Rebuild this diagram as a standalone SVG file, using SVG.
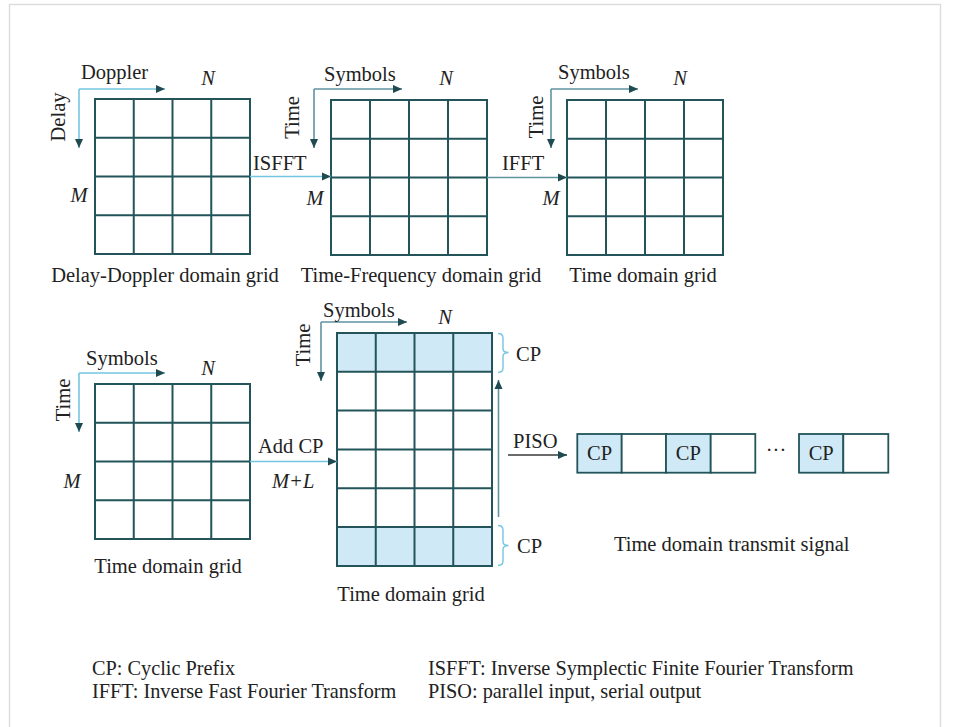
<svg xmlns="http://www.w3.org/2000/svg" width="953" height="727" viewBox="0 0 953 727">
<style>
  text { font-family: 'Liberation Serif', 'DejaVu Serif', serif; font-size: 20.5px; fill: #222; }
  .lg { font-size: 20.3px; }
  .it { font-style: italic; }
  .mid { text-anchor: middle; }
  .grid { fill: none; stroke: #22545a; stroke-width: 2; }
  .gl { stroke: #22545a; stroke-width: 2; }
  .cp { fill: #cfeaf6; stroke: none; }
  .lb { stroke: #74c6e0; stroke-width: 1.6; fill: none; }
  .gt { stroke: #5f93a0; stroke-width: 1.6; fill: none; }
  .dk { stroke: #3a3a3a; stroke-width: 1.4; fill: none; }
  .br { stroke: #74c6e0; stroke-width: 1.4; fill: none; }
</style>
<defs>
  <marker id="ah" markerUnits="userSpaceOnUse" markerWidth="10" markerHeight="9" refX="9" refY="4.5" orient="auto">
    <path d="M0,0.5 L9,4.5 L0,8.5 z" fill="#1f4a50"/>
  </marker>
</defs>
<rect x="9.5" y="4.5" width="931" height="760" fill="none" stroke="#dddddd" stroke-width="1.5"/>

<g id="dd-grid">
  <rect class="grid" x="95" y="99" width="155" height="155"/>
  <path class="gl" d="M133.75,99 V254 M172.5,99 V254 M211.25,99 V254 M95,137.75 H250 M95,176.5 H250 M95,215.25 H250"/>
  <line class="lb" x1="79" y1="89" x2="165" y2="89" marker-end="url(#ah)"/>
  <line class="lb" x1="79" y1="89" x2="79" y2="148" marker-end="url(#ah)"/>
  <text x="81" y="79">Doppler</text>
  <text transform="translate(65,117) rotate(-90)" class="mid">Delay</text>
  <text x="208" y="85" class="it mid">N</text>
  <text x="79" y="201.5" class="it mid">M</text>
  <text x="165" y="282" class="mid">Delay-Doppler domain grid</text>
</g>

<g id="tf-grid">
  <rect class="grid" x="331" y="100" width="156" height="155"/>
  <path class="gl" d="M370,100 V255 M409,100 V255 M448,100 V255 M331,138.75 H487 M331,177.5 H487 M331,216.25 H487"/>
  <line class="gt" x1="314" y1="89" x2="402" y2="89" marker-end="url(#ah)"/>
  <line class="gt" x1="314" y1="89" x2="314" y2="148" marker-end="url(#ah)"/>
  <text x="324" y="81">Symbols</text>
  <text transform="translate(299,117.5) rotate(-90)" class="mid">Time</text>
  <text x="446" y="85" class="it mid">N</text>
  <text x="315" y="205" class="it mid">M</text>
  <text x="421" y="282" class="mid">Time-Frequency domain grid</text>
</g>

<g id="td-grid-1">
  <rect class="grid" x="567" y="100" width="156" height="155"/>
  <path class="gl" d="M606,100 V255 M645,100 V255 M684,100 V255 M567,138.75 H723 M567,177.5 H723 M567,216.25 H723"/>
  <line class="gt" x1="551" y1="89" x2="638" y2="89" marker-end="url(#ah)"/>
  <line class="gt" x1="551" y1="89" x2="551" y2="148" marker-end="url(#ah)"/>
  <text x="558" y="79">Symbols</text>
  <text transform="translate(543,117) rotate(-90)" class="mid">Time</text>
  <text x="680" y="85" class="it mid">N</text>
  <text x="551" y="205" class="it mid">M</text>
  <text x="643" y="282" class="mid">Time domain grid</text>
</g>

<g id="td-grid-2">
  <rect class="grid" x="95" y="384" width="155" height="155"/>
  <path class="gl" d="M133.75,384 V539 M172.5,384 V539 M211.25,384 V539 M95,422.75 H250 M95,461.5 H250 M95,500.25 H250"/>
  <line class="lb" x1="79" y1="373" x2="165" y2="373" marker-end="url(#ah)"/>
  <line class="lb" x1="79" y1="373" x2="79" y2="432" marker-end="url(#ah)"/>
  <text x="86" y="365">Symbols</text>
  <text transform="translate(70,400) rotate(-90)" class="mid">Time</text>
  <text x="208" y="375" class="it mid">N</text>
  <text x="72" y="488" class="it mid">M</text>
  <text x="168" y="573" class="mid">Time domain grid</text>
</g>

<g id="td-grid-cp">
  <rect class="cp" x="337" y="333" width="155" height="38.8"/>
  <rect class="cp" x="337" y="527" width="155" height="39"/>
  <rect class="grid" x="337" y="333" width="155" height="233"/>
  <path class="gl" d="M375.75,333 V566 M414.5,333 V566 M453.25,333 V566 M337,371.8 H492 M337,410.6 H492 M337,449.4 H492 M337,488.2 H492 M337,527 H492"/>
  <line class="gt" x1="321" y1="322" x2="407" y2="322" marker-end="url(#ah)"/>
  <line class="gt" x1="321" y1="322" x2="321" y2="381" marker-end="url(#ah)"/>
  <text x="323" y="317">Symbols</text>
  <text transform="translate(310,345) rotate(-90)" class="mid">Time</text>
  <text x="445" y="324" class="it mid">N</text>
  <path class="br" d="M498,333.5 Q503,333.5 503,338 V348.5 Q503,352.5 508.5,352.5 Q503,352.5 503,356.5 V368 Q503,372.5 498,372.5"/>
  <text x="516" y="361">CP</text>
  <path class="br" d="M498,525.5 Q503,525.5 503,530 V541.5 Q503,545.5 508.5,545.5 Q503,545.5 503,549.5 V561 Q503,565.5 498,565.5"/>
  <text x="517" y="553">CP</text>
  <text x="411" y="601" class="mid">Time domain grid</text>
</g>

<g id="tx-signal">
  <rect x="577.3" y="434" width="44.4" height="38.7" fill="#cfeaf6" stroke="#22545a" stroke-width="1.8"/>
  <rect x="621.7" y="434" width="44.3" height="38.7" fill="#ffffff" stroke="#22545a" stroke-width="1.8"/>
  <rect x="666" y="434" width="44.7" height="38.7" fill="#cfeaf6" stroke="#22545a" stroke-width="1.8"/>
  <rect x="710.7" y="434" width="44.6" height="38.7" fill="#ffffff" stroke="#22545a" stroke-width="1.8"/>
  <rect x="799" y="434" width="44.3" height="38.7" fill="#cfeaf6" stroke="#22545a" stroke-width="1.8"/>
  <rect x="843.3" y="434" width="45" height="38.7" fill="#ffffff" stroke="#22545a" stroke-width="1.8"/>
  <text x="599.5" y="459.5" class="mid">CP</text>
  <text x="688.3" y="459.5" class="mid">CP</text>
  <text x="821.2" y="459.5" class="mid">CP</text>
  <text x="776" y="457" class="mid">···</text>
  <text x="731.7" y="551" class="mid">Time domain transmit signal</text>
</g>

<g id="connectors">
  <line class="lb" x1="250" y1="176.5" x2="331" y2="176.5" marker-end="url(#ah)"/>
  <text x="253" y="170">ISFFT</text>
  <line class="gt" x1="487" y1="177.5" x2="567" y2="177.5" marker-end="url(#ah)"/>
  <text x="502" y="170">IFFT</text>
  <line class="lb" x1="250" y1="461.5" x2="337" y2="461.5" marker-end="url(#ah)"/>
  <text x="258" y="453">Add CP</text>
  <text x="272" y="488" class="it">M+L</text>
  <line class="gt" x1="498.5" y1="517" x2="498.5" y2="380" marker-end="url(#ah)"/>
  <line class="dk" x1="508" y1="455" x2="567" y2="455" marker-end="url(#ah)"/>
  <text x="513" y="448">PISO</text>
</g>

<g id="legend">
  <text class="lg" x="92" y="675">CP: Cyclic Prefix</text>
  <text class="lg" x="92" y="698">IFFT: Inverse Fast Fourier Transform</text>
  <text class="lg" x="428" y="675">ISFFT: Inverse Symplectic Finite Fourier Transform</text>
  <text class="lg" x="428" y="698">PISO: parallel input, serial output</text>
</g>
</svg>
